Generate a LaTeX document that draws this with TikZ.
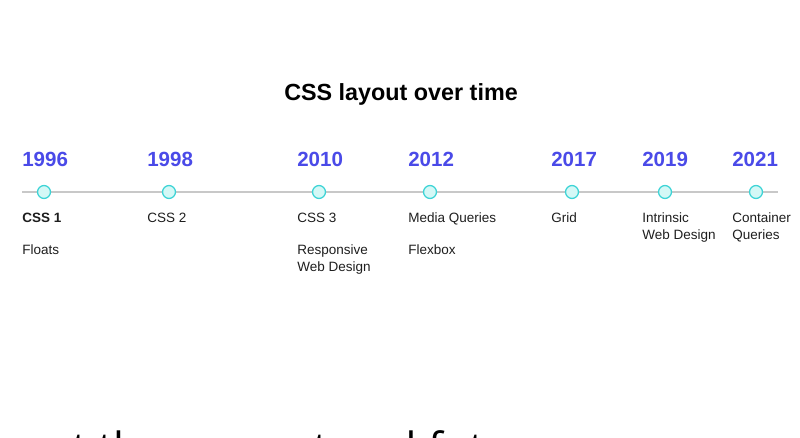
\documentclass[tikz,border=0pt]{standalone}
\usepackage{fontspec}
\setmainfont{Liberation Sans}
\newfontfamily\closingfont{Open Sans}
\usetikzlibrary{positioning}

\definecolor{yearblue}{HTML}{4A4AE8}
\definecolor{dotfill}{HTML}{D4F8F6}
\definecolor{dotdraw}{HTML}{3ED4D6}
\definecolor{trackgray}{HTML}{C8C8C8}
\definecolor{labelink}{HTML}{1E1E1E}

% two label lines, baseline on the first one
\newcommand{\stacklabel}[2]{\vtop{\hbox{#1}\hbox{#2}}}

\begin{document}
\begin{tikzpicture}[
  x=0.025cm,y=-0.025cm,
  track/.style={draw=trackgray,line width=1.5pt},
  milestone/.style={
    circle,draw=dotdraw,fill=dotfill,line width=.9pt,
    minimum size=9.2pt,inner sep=0pt
  },
  year/.style={
    font=\fontsize{14.6}{17}\selectfont\bfseries,text=yearblue,
    anchor=base west,inner sep=0pt
  },
  event/.style={
    font=\fontsize{9.6}{11.4}\selectfont,text=labelink,
    anchor=base west,inner sep=0pt
  },
  heading/.style={font=\fontsize{16.6}{20}\selectfont\bfseries,anchor=base,inner sep=0pt},
  closing/.style={font=\closingfont\fontsize{30.6}{34}\selectfont,anchor=base west,inner sep=0pt}
]
  \useasboundingbox (0,0) rectangle (800,438);

  \node[heading] (title) at (401,101) {CSS layout over time};

  % the track runs under every milestone
  \coordinate (start) at (22,192);
  \coordinate (finish) at (778,192);
  \draw[track] (start) -- (finish);

  \foreach \name/\dot/\left/\yr/\first/\second in {
      a/44/22/1996/{\bfseries CSS 1}/Floats,
      b/169/147/1998/CSS 2/{},
      c/319/297/2010/CSS 3/{\stacklabel{Responsive}{Web Design}},
      d/430/408/2012/Media Queries/Flexbox,
      e/572/551/2017/Grid/{},
      f/665/642/2019/{\stacklabel{Intrinsic}{Web Design}}/{},
      g/756/732/2021/{\stacklabel{Container}{Queries}}/{}}{
    \node[milestone] (dot-\name) at (\dot,192) {};
    \node[year] (year-\name) at (\left,167) {\yr};
    \node[event] (first-\name) at (\left,223) {\first};
    \node[event] (second-\name) at (\left,255) {\second};
  }

  \begin{scope}
    \clip (0,0) rectangle (800,438);
    \node[closing] (tagline) at (48,463) {at the present and future};
  \end{scope}
\end{tikzpicture}
\end{document}
